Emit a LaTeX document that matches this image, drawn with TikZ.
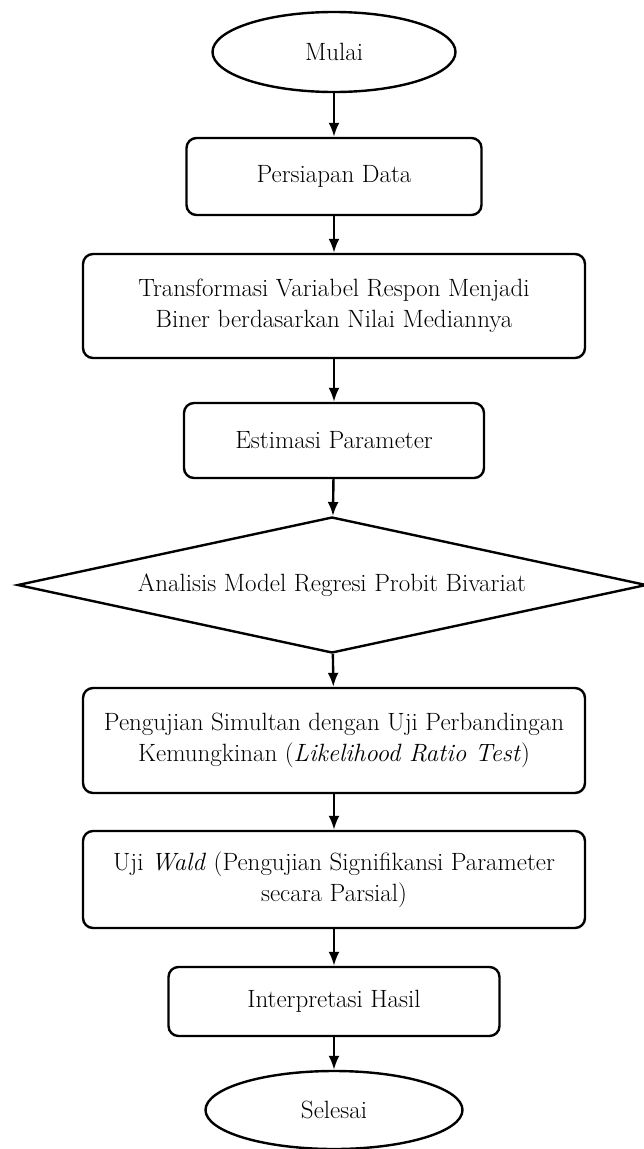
\documentclass[tikz,border=0pt]{standalone}
\usepackage{tikz}
\usetikzlibrary{positioning, arrows.meta, shapes.geometric}

\begin{document}
\begin{tikzpicture}[x=1pt,y=-1pt,->,>={Latex[length=14pt,width=11pt]},line width=2.4pt,
  every node/.style={font=\fontsize{25}{30.5}\selectfont, align=center, inner sep=0pt},
  proses/.style={draw, rounded corners=10pt},
  terminal/.style={draw, ellipse},
  keputusan/.style={draw, diamond, aspect=4.6}]
\useasboundingbox (0,0) rectangle (644,1149);

\node[terminal, minimum width=243pt, minimum height=80pt] (mulai) at (334,52) {Mulai};
\node[proses, minimum width=295pt, minimum height=77pt] (persiapan) at (334,176.5) {Persiapan Data};
\node[proses, minimum width=502pt, minimum height=104pt] (transformasi) at (334,306) {Transformasi Variabel Respon Menjadi\\Biner berdasarkan Nilai Mediannya};
\node[proses, minimum width=300pt, minimum height=75pt] (estimasi) at (334,440.5) {Estimasi Parameter};
\node[keputusan, minimum width=629pt, minimum height=136pt] (analisis) at (332,585) {Analisis Model Regresi Probit Bivariat};
\node[proses, minimum width=502pt, minimum height=105pt] (simultan) at (334,740.5) {Pengujian Simultan dengan Uji Perbandingan\\Kemungkinan (\textit{Likelihood Ratio Test})};
\node[proses, minimum width=502pt, minimum height=97pt] (wald) at (334,879.5) {Uji \textit{Wald} (Pengujian Signifikansi Parameter\\secara Parsial)};
\node[proses, minimum width=331pt, minimum height=69pt] (interpretasi) at (334,1001.5) {Interpretasi Hasil};
\node[terminal, minimum width=257pt, minimum height=78pt] (selesai) at (334,1110) {Selesai};

\draw (mulai) -- (persiapan);
\draw (persiapan) -- (transformasi);
\draw (transformasi) -- (estimasi);
\draw (estimasi) -- (analisis);
\draw (analisis) -- (simultan);
\draw (simultan) -- (wald);
\draw (wald) -- (interpretasi);
\draw (interpretasi) -- (selesai);
\end{tikzpicture}
\end{document}
